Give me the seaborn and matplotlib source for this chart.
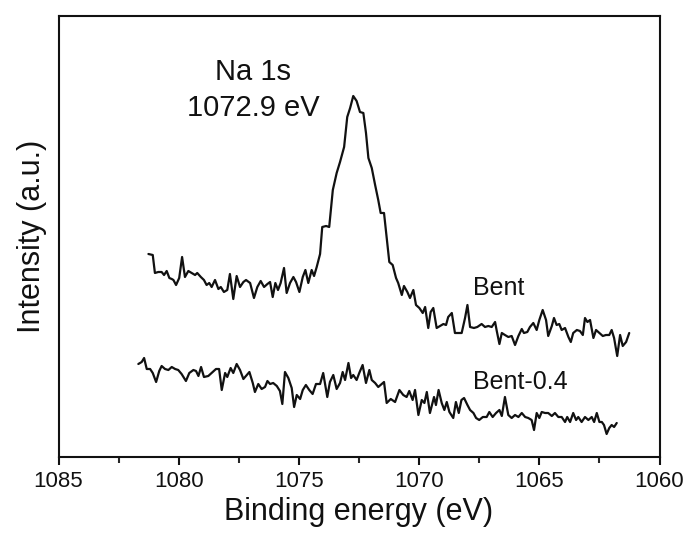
import matplotlib
matplotlib.use("Agg")
import matplotlib.pyplot as plt
from matplotlib.ticker import MultipleLocator
import seaborn as sns
import pandas as pd

# ---- data (binding energy in eV, intensity in a.u.) ----
bent_energy = [
    1081.26, 1081.08, 1080.99, 1080.85, 1080.71, 1080.61, 1080.50, 1080.39, 1080.29, 1080.22,
    1080.11, 1079.98, 1079.86, 1079.74, 1079.60, 1079.46, 1079.32, 1079.23, 1079.08, 1078.95,
    1078.84, 1078.73, 1078.63, 1078.49, 1078.35, 1078.25, 1078.12, 1077.98, 1077.87, 1077.73,
    1077.59, 1077.45, 1077.31, 1077.20, 1077.03, 1076.87, 1076.73, 1076.59, 1076.45, 1076.31,
    1076.20, 1076.09, 1075.98, 1075.87, 1075.76, 1075.62, 1075.51, 1075.37, 1075.23, 1075.12,
    1074.98, 1074.84, 1074.73, 1074.61, 1074.47, 1074.37, 1074.26, 1074.12, 1074.03, 1073.87,
    1073.74, 1073.59, 1073.43, 1073.29, 1073.12, 1072.99, 1072.87, 1072.74, 1072.60, 1072.46,
    1072.32, 1072.21, 1072.11, 1071.97, 1071.83, 1071.70, 1071.60, 1071.46, 1071.35, 1071.24,
    1071.10, 1070.96, 1070.87, 1070.72, 1070.63, 1070.49, 1070.38, 1070.24, 1070.13, 1069.99,
    1069.85, 1069.75, 1069.62, 1069.52, 1069.41, 1069.27, 1069.13, 1068.99, 1068.88, 1068.79,
    1068.64, 1068.51, 1068.37, 1068.23, 1068.09, 1067.99, 1067.88, 1067.72, 1067.58, 1067.40,
    1067.26, 1067.12, 1066.98, 1066.84, 1066.77, 1066.66, 1066.56, 1066.43, 1066.29, 1066.15,
    1066.01, 1065.87, 1065.73, 1065.64, 1065.50, 1065.39, 1065.25, 1065.11, 1065.00, 1064.86,
    1064.72, 1064.63, 1064.48, 1064.39, 1064.28, 1064.17, 1064.07, 1063.93, 1063.79, 1063.69,
    1063.59, 1063.44, 1063.31, 1063.19, 1063.10, 1063.00, 1062.89, 1062.75, 1062.64, 1062.50,
    1062.36, 1062.23, 1062.09, 1061.99, 1061.89, 1061.76, 1061.64, 1061.53, 1061.39, 1061.26,
]
bent_intensity = [
    206, 205, 187, 188, 188, 185, 189, 182, 181, 180,
    175, 182, 203, 183, 189, 187, 185, 187, 183, 180,
    175, 177, 173, 180, 171, 173, 168, 170, 186, 161,
    184, 173, 178, 180, 177, 162, 173, 179, 173, 176,
    178, 163, 177, 170, 177, 192, 167, 177, 183, 178,
    168, 183, 190, 177, 190, 184, 193, 206, 233, 234,
    233, 270, 287, 298, 313, 343, 352, 364, 359, 348,
    347, 327, 302, 292, 275, 260, 247, 247, 223, 198,
    195, 182, 177, 165, 174, 168, 162, 170, 155, 152,
    147, 153, 132, 148, 152, 132, 134, 136, 135, 143,
    147, 127, 127, 127, 142, 155, 133, 132, 133, 136,
    133, 134, 133, 138, 129, 116, 127, 125, 123, 124,
    115, 124, 131, 127, 128, 133, 137, 130, 140, 150,
    140, 124, 134, 142, 135, 136, 130, 132, 123, 118,
    127, 130, 129, 125, 142, 138, 140, 122, 130, 127,
    124, 125, 125, 130, 122, 104, 125, 114, 118, 127,
]

bent04_energy = [
    1081.68, 1081.54, 1081.44, 1081.33, 1081.19, 1081.08, 1080.94, 1080.81, 1080.71, 1080.57,
    1080.43, 1080.29, 1080.15, 1080.02, 1079.88, 1079.70, 1079.56, 1079.39, 1079.28, 1079.18,
    1079.07, 1078.95, 1078.77, 1078.63, 1078.45, 1078.32, 1078.21, 1078.07, 1077.98, 1077.84,
    1077.73, 1077.59, 1077.45, 1077.31, 1077.17, 1077.06, 1076.92, 1076.83, 1076.69, 1076.55,
    1076.41, 1076.31, 1076.20, 1076.07, 1075.92, 1075.79, 1075.69, 1075.58, 1075.44, 1075.30,
    1075.20, 1075.09, 1074.95, 1074.84, 1074.71, 1074.57, 1074.43, 1074.29, 1074.12, 1073.99,
    1073.82, 1073.71, 1073.57, 1073.43, 1073.29, 1073.18, 1073.08, 1072.94, 1072.83, 1072.74,
    1072.60, 1072.49, 1072.35, 1072.21, 1072.07, 1071.97, 1071.83, 1071.70, 1071.46, 1071.35,
    1071.18, 1071.00, 1070.82, 1070.66, 1070.52, 1070.41, 1070.27, 1070.17, 1070.03, 1069.89,
    1069.78, 1069.68, 1069.55, 1069.38, 1069.30, 1069.19, 1069.06, 1068.95, 1068.85, 1068.74,
    1068.58, 1068.47, 1068.35, 1068.24, 1068.13, 1067.99, 1067.88, 1067.74, 1067.63, 1067.50,
    1067.35, 1067.19, 1067.08, 1066.94, 1066.80, 1066.66, 1066.56, 1066.43, 1066.29, 1066.15,
    1066.01, 1065.87, 1065.73, 1065.59, 1065.46, 1065.32, 1065.22, 1065.11, 1065.00, 1064.90,
    1064.76, 1064.63, 1064.48, 1064.35, 1064.21, 1064.07, 1063.93, 1063.84, 1063.72, 1063.59,
    1063.47, 1063.38, 1063.24, 1063.10, 1062.96, 1062.82, 1062.72, 1062.61, 1062.50, 1062.40,
    1062.31, 1062.20, 1062.09, 1061.99, 1061.89, 1061.78,
]
bent04_intensity = [
    96, 98, 102, 91, 91, 87, 78, 89, 94, 91,
    90, 93, 91, 90, 86, 79, 87, 90, 89, 84,
    93, 83, 84, 87, 91, 91, 70, 87, 83, 92,
    87, 96, 90, 81, 85, 88, 77, 68, 76, 71,
    73, 79, 76, 77, 74, 69, 56, 88, 82, 72,
    53, 65, 61, 70, 75, 70, 66, 76, 76, 87,
    63, 78, 85, 71, 77, 88, 80, 97, 82, 85,
    80, 87, 95, 77, 90, 80, 77, 73, 78, 57,
    61, 58, 70, 65, 63, 69, 60, 70, 45, 60,
    57, 68, 47, 63, 55, 70, 57, 50, 58, 48,
    42, 58, 47, 60, 62, 55, 50, 47, 42, 40,
    43, 43, 48, 43, 47, 50, 44, 63, 45, 42,
    45, 43, 47, 43, 42, 40, 30, 47, 42, 48,
    47, 47, 44, 47, 43, 43, 38, 43, 38, 47,
    40, 43, 38, 43, 40, 43, 38, 47, 38, 38,
    35, 26, 32, 35, 33, 37,
]

series_names = ["Bent", "Bent-0.4"]
x_ticks = [1085, 1080, 1075, 1070, 1065, 1060]
x_label = "Binding energy (eV)"
y_label = "Intensity (a.u.)"
peak_lines = ["Na 1s", "1072.9 eV"]

# ---- figure ----
sns.set_theme(style="white")
plt.rcParams["font.family"] = ["Liberation Sans", "DejaVu Sans"]

df = pd.concat([
    pd.DataFrame({"energy": bent_energy, "intensity": bent_intensity, "sample": series_names[0]}),
    pd.DataFrame({"energy": bent04_energy, "intensity": bent04_intensity, "sample": series_names[1]}),
])

fig = plt.figure(figsize=(6.86, 5.35), dpi=100)
ax = fig.add_axes([0.0853, 0.1458, 0.8761, 0.8243])

sns.lineplot(data=df, x="energy", y="intensity", units="sample", estimator=None,
             color="#111111", linewidth=1.6, legend=False, ax=ax, sort=False)

ax.set_xlim(1085, 1060)
ax.set_ylim(3, 444)
ax.set_xticks(x_ticks)
ax.xaxis.set_minor_locator(MultipleLocator(2.5))
ax.set_yticks([])
ax.tick_params(axis="x", which="major", direction="out", length=6, width=1.5,
               labelsize=16, pad=4, colors="#111111", bottom=True)
ax.tick_params(axis="x", which="minor", direction="out", length=4, width=1.5, bottom=True)
for sp in ax.spines.values():
    sp.set_visible(True)
    sp.set_linewidth(1.5)
    sp.set_color("#111111")

ax.set_xlabel(x_label, fontsize=22, color="#111111", labelpad=4)
ax.set_ylabel(y_label, fontsize=22, color="#111111", labelpad=8)

ax.text(1076.9, 388, peak_lines[0], ha="center", va="center", fontsize=21, color="#111111")
ax.text(1076.9, 352, peak_lines[1], ha="center", va="center", fontsize=21, color="#111111")
ax.text(1066.68, 172, series_names[0], ha="center", va="center", fontsize=18, color="#111111")
ax.text(1065.8, 78, series_names[1], ha="center", va="center", fontsize=18, color="#111111")

fig.savefig("out.png", dpi=100)
